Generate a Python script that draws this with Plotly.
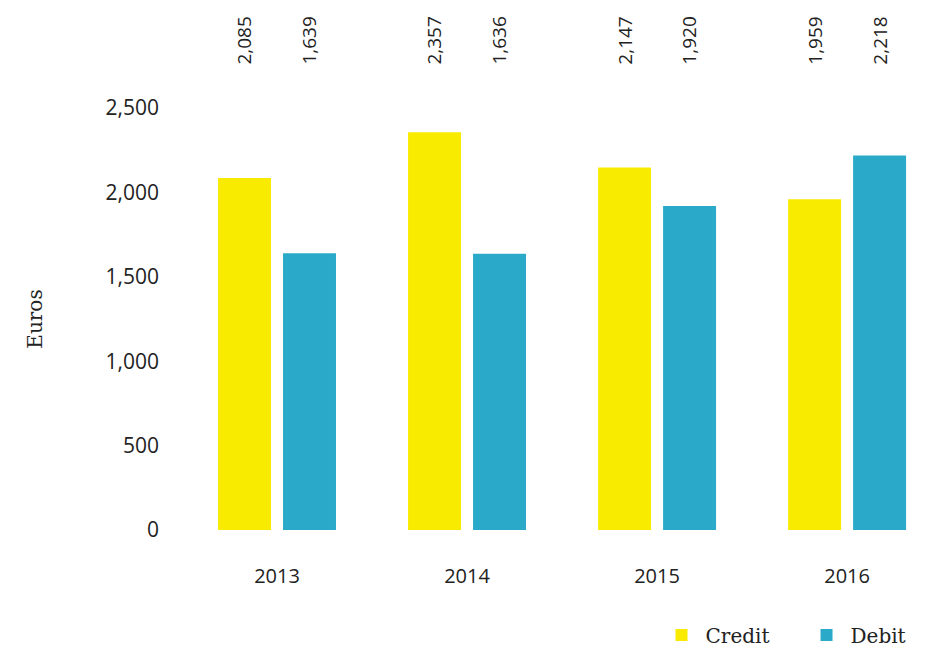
import plotly.graph_objects as go

years = ["2013", "2014", "2015", "2016"]
credit = [2085, 2357, 2147, 1959]
debit = [1639, 1636, 1920, 2218]
y_ticks = [0, 500, 1000, 1500, 2000, 2500]
y_tick_labels = ["0", "500", "1,000", "1,500", "2,000", "2,500"]

YELLOW = "#F9EB00"
TEAL = "#2AAAC8"
TXT = "#222222"
SANS = "Open Sans, Noto Sans, sans-serif"
SERIF = "DejaVu Serif, serif"

xs = list(range(len(years)))

fig = go.Figure()
fig.add_trace(go.Bar(x=xs, y=credit, name="Credit", marker=dict(color=YELLOW, line=dict(width=0))))
fig.add_trace(go.Bar(x=xs, y=debit, name="Debit", marker=dict(color=TEAL, line=dict(width=0))))

off = 0.171
for i, (c, d) in enumerate(zip(credit, debit)):
    for dx, v in ((-off, c), (off, d)):
        fig.add_annotation(x=i + dx, xref="x", y=1.097, yref="paper",
                           text=f"{v:,}", textangle=-90, showarrow=False,
                           xanchor="center", yanchor="bottom",
                           font=dict(family=SANS, size=19, color=TXT))

fig.update_layout(
    width=917, height=642,
    margin=dict(l=174, r=0, t=100, b=120, autoexpand=False),
    paper_bgcolor="white", plot_bgcolor="white",
    barmode="group", bargap=0.316, bargroupgap=0.185,
    xaxis=dict(range=[-0.5, 3.41], tickvals=xs, ticktext=years,
               showgrid=False, zeroline=False, showline=False, automargin=False,
               ticks="", ticklabelstandoff=32,
               tickfont=dict(family=SANS, size=20, color=TXT)),
    yaxis=dict(range=[0, 2500], tickvals=y_ticks, ticktext=y_tick_labels,
               showgrid=False, zeroline=False, showline=False, automargin=False,
               ticks="", ticklabelstandoff=22,
               tickfont=dict(family=SANS, size=21, color=TXT),
               title=dict(text="Euros", standoff=57,
                          font=dict(family=SERIF, size=20, color=TXT))),
    legend=dict(orientation="h", x=0.64, xanchor="left", y=-0.249, yanchor="middle",
                font=dict(family=SERIF, size=20, color=TXT),
                entrywidth=92, entrywidthmode="pixels",
                itemwidth=38, traceorder="normal"),
    showlegend=True,
)

fig.write_html("out.html")
